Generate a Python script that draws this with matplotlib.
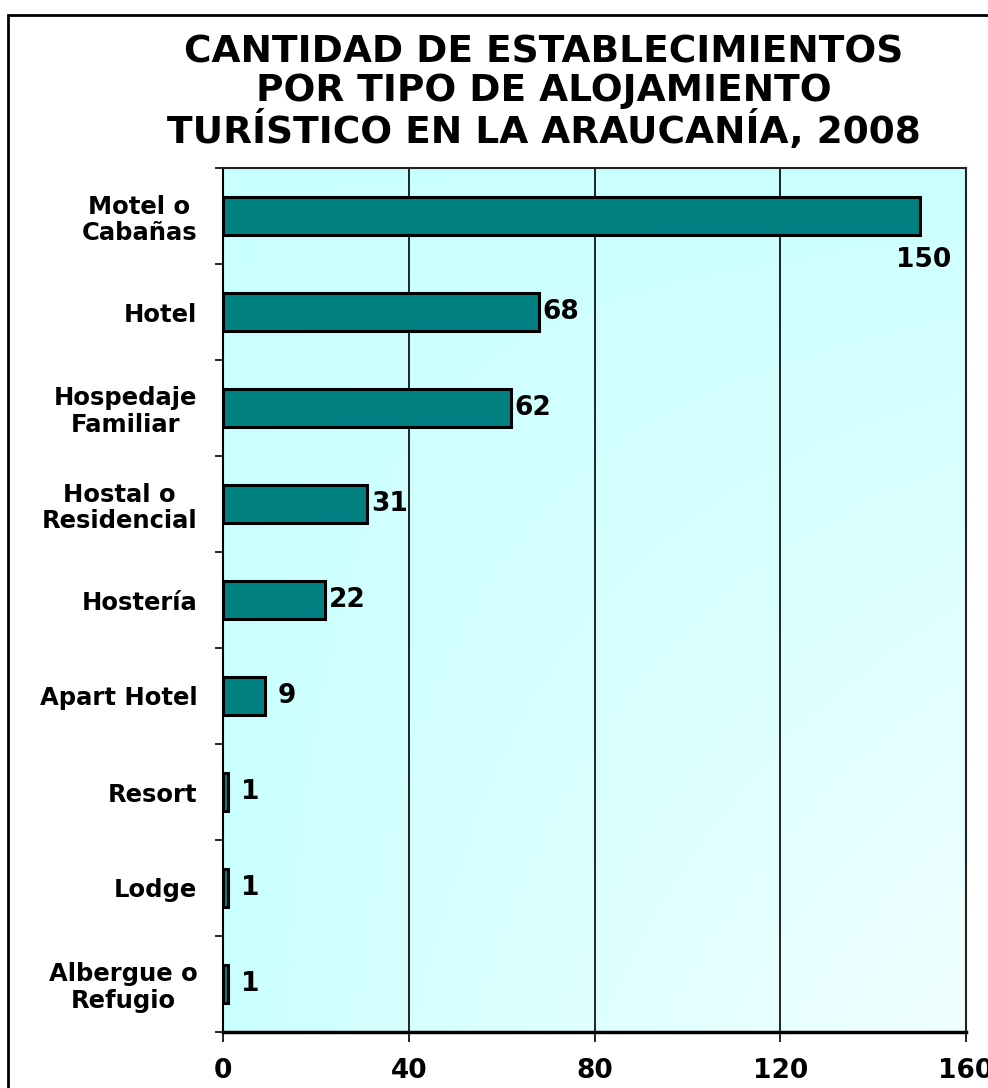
import numpy as np
import matplotlib
matplotlib.use("Agg")
import matplotlib.pyplot as plt
from matplotlib.colors import LinearSegmentedColormap
from matplotlib.patches import Rectangle

categories = ["Motel o\nCabañas", "Hotel", "Hospedaje\nFamiliar", "Hostal o\nResidencial",
              "Hostería", "Apart Hotel", "Resort", "Lodge", "Albergue o\nRefugio"]
values = [150, 68, 62, 31, 22, 9, 1, 1, 1]
xticks = [0, 40, 80, 120, 160]
title = "CANTIDAD DE ESTABLECIMIENTOS\nPOR TIPO DE ALOJAMIENTO\nTURÍSTICO EN LA ARAUCANÍA, 2008"

plt.rcParams['font.family'] = ['DejaVu Sans']

fig = plt.figure(figsize=(9.88, 10.88), dpi=100)
W, H = 988, 1088

# outer frame (runs off the right/bottom edge like the original)
fig.patches.append(Rectangle((8 / W, -0.05), 1.1, 1 - 15 / H + 0.05, transform=fig.transFigure,
                             fill=False, edgecolor='black', linewidth=2))

ax = fig.add_axes([223 / W, 1 - 1032 / H, (966 - 223) / W, (1032 - 168) / H])

# corner gradient background: cyan top-left, paler towards bottom-right
cmap = LinearSegmentedColormap.from_list("bg", ["#c8ffff", "#d8ffff", "#f0ffff"])
xx, yy = np.meshgrid(np.linspace(0, 1, 200), np.linspace(0, 1, 200))
grad = (xx * yy) ** 0.6
ax.imshow(grad, cmap=cmap, extent=[0, 1, 0, 1], origin='upper',
          transform=ax.transAxes, aspect='auto', zorder=0)

y = np.arange(len(categories))
ax.barh(y, values, height=0.4, color='#008080', edgecolor='black', linewidth=2.2, zorder=3)

ax.set_xlim(0, 160)
ax.set_ylim(len(categories) - 0.5, -0.5)

for xv in xticks[1:-1]:
    ax.axvline(xv, color='black', linewidth=1.2, zorder=1)

for i, v in enumerate(values):
    if i == 0:
        ax.text(v + 0.8, i + 0.46, str(v), ha='center', va='center',
                fontsize=19, fontweight='bold', zorder=4)
    else:
        ax.annotate(str(v), (v, i), xytext=(16, 0), textcoords='offset points',
                    ha='center', va='center', fontsize=19, fontweight='bold', zorder=4)

ax.set_yticks(y)
ax.set_yticklabels(categories, fontsize=17.5, fontweight='bold')
for lbl in ax.get_yticklabels():
    lbl.set_multialignment('center')
    lbl.set_linespacing(1.15)
ax.tick_params(axis='y', which='major', length=0, pad=18.5)
ax.set_yticks(np.arange(-0.5, len(categories), 1), minor=True)
ax.tick_params(axis='y', which='minor', length=6, width=1.2, direction='out')

ax.set_xticks(xticks)
ax.set_xticklabels([str(t) for t in xticks], fontsize=19, fontweight='bold')
ax.tick_params(axis='x', length=7, width=1.2, direction='out', pad=12)

for s in ['top', 'right']:
    ax.spines[s].set_color('#222222')
    ax.spines[s].set_linewidth(1.5)
ax.spines['left'].set_linewidth(1.5)
ax.spines['bottom'].set_linewidth(2.5)

fig.text(544 / W, 1 - 93 / H, title, ha='center', va='center', fontsize=27,
         fontweight='bold', linespacing=1.08)

fig.savefig("out.png", dpi=100)
